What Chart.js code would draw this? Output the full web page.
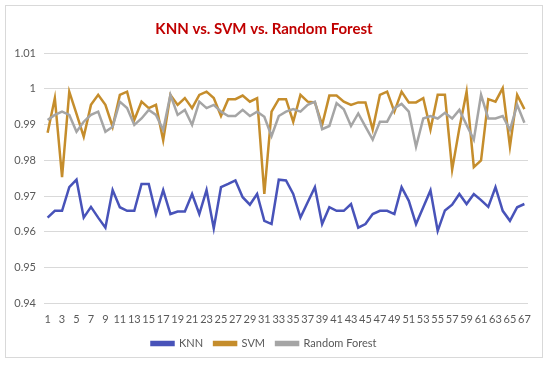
<!DOCTYPE html>
<html>
<head>
<meta charset="utf-8">
<script src="https://cdn.jsdelivr.net/npm/chart.js@4.4.1/dist/chart.umd.min.js"></script>
<style>
  html, body { margin: 0; padding: 0; background: #fff; }
  #wrap { position: relative; width: 550px; height: 367px; }
  #frame { position: absolute; left: 5px; top: 5px; width: 538px; height: 353px; border: 1px solid #d9d9d9; box-sizing: border-box; }
  canvas { position: absolute; left: 0; top: 0; }
</style>
</head>
<body>
<div id="wrap">
  <div id="frame"></div>
  <canvas id="chart" width="550" height="367"></canvas>
</div>
<script>
// valores
const runs = Array.from({ length: 67 }, (_, i) => String(i + 1));

const knnAcc = [
  0.9640, 0.9659, 0.9659, 0.9725, 0.9746, 0.9640, 0.9670, 0.9640, 0.9612, 0.9717,
  0.9669, 0.9659, 0.9659, 0.9734, 0.9734, 0.9650, 0.9717, 0.9650, 0.9657, 0.9657,
  0.9706, 0.9650, 0.9717, 0.9610, 0.9725, 0.9734, 0.9744, 0.9697, 0.9676, 0.9706,
  0.9631, 0.9622, 0.9746, 0.9744, 0.9706, 0.9640, 0.9683, 0.9725, 0.9622, 0.9669,
  0.9659, 0.9659, 0.9678, 0.9612, 0.9622, 0.9650, 0.9659, 0.9659, 0.9650, 0.9725,
  0.9687, 0.9622, 0.9669, 0.9716, 0.9603, 0.9660, 0.9676, 0.9706, 0.9678, 0.9706,
  0.9689, 0.9670, 0.9725, 0.9659, 0.9631, 0.9669, 0.9678
];

const svmAcc = [
  0.9877, 0.9974, 0.9753, 0.9992, 0.9930, 0.9866, 0.9955, 0.9983, 0.9955, 0.9894,
  0.9983, 0.9992, 0.9913, 0.9964, 0.9946, 0.9955, 0.9856, 0.9983, 0.9955, 0.9974,
  0.9946, 0.9983, 0.9992, 0.9974, 0.9924, 0.9971, 0.9971, 0.9981, 0.9964, 0.9974,
  0.9706, 0.9936, 0.9971, 0.9971, 0.9908, 0.9983, 0.9964, 0.9962, 0.9899, 0.9981,
  0.9981, 0.9964, 0.9955, 0.9962, 0.9962, 0.9886, 0.9983, 0.9992, 0.9936, 0.9992,
  0.9962, 0.9962, 0.9974, 0.9886, 0.9983, 0.9983, 0.9774, 0.9890, 0.9992, 0.9781,
  0.9800, 0.9971, 0.9964, 1.0002, 0.9838, 0.9983, 0.9943
];

const rfAcc = [
  0.9913, 0.9927, 0.9936, 0.9927, 0.9880, 0.9908, 0.9927, 0.9936, 0.9880, 0.9894,
  0.9964, 0.9946, 0.9899, 0.9917, 0.9941, 0.9927, 0.9885, 0.9983, 0.9927, 0.9941,
  0.9899, 0.9964, 0.9946, 0.9955, 0.9936, 0.9924, 0.9924, 0.9941, 0.9924, 0.9936,
  0.9922, 0.9868, 0.9924, 0.9936, 0.9943, 0.9936, 0.9955, 0.9964, 0.9887, 0.9896,
  0.9960, 0.9943, 0.9896, 0.9931, 0.9894, 0.9858, 0.9908, 0.9908, 0.9946, 0.9958,
  0.9936, 0.9838, 0.9917, 0.9924, 0.9917, 0.9933, 0.9917, 0.9941, 0.9899, 0.9858,
  0.9983, 0.9917, 0.9917, 0.9924, 0.9885, 0.9955, 0.9905
];

const yTicks = [0.94, 0.95, 0.96, 0.97, 0.98, 0.99, 1.00, 1.01];

const FONT = 'Lato, "Open Sans", sans-serif';
const TEXT = '#595959';

const makeLine = (label, data, color, order) => ({
  label: label,
  data: data,
  borderColor: color,
  backgroundColor: color,
  borderWidth: 2.5,
  pointRadius: 0,
  tension: 0,
  order: order
});

new Chart(document.getElementById('chart'), {
  type: 'line',
  data: {
    labels: runs,
    datasets: [
      makeLine('KNN', knnAcc, '#4853b9', 3),
      makeLine('SVM', svmAcc, '#c58d2c', 2),
      makeLine('Random Forest', rfAcc, '#a5a5a5', 1)
    ]
  },
  options: {
    responsive: false,
    animation: false,
    layout: { padding: { left: 0, right: 22, top: 0, bottom: 8 } },
    scales: {
      x: {
        offset: true,
        grid: { display: false, drawTicks: false },
        border: { display: false },
        afterFit: (scale) => { scale.height = 23.5; },
        ticks: {
          autoSkip: false,
          maxRotation: 0,
          padding: 9.5,
          color: TEXT,
          font: { family: FONT, size: 11 },
          callback: (val, idx) => (idx % 2 === 0 ? runs[idx] : '')
        }
      },
      y: {
        min: yTicks[0],
        max: yTicks[yTicks.length - 1],
        afterBuildTicks: (scale) => { scale.ticks = yTicks.map(v => ({ value: v })); },
        afterFit: (scale) => { scale.width = 44; },
        grid: { color: '#d9d9d9', drawTicks: false },
        border: { display: false },
        ticks: {
          padding: 8,
          color: TEXT,
          font: { family: FONT, size: 11 },
          callback: (v) => String(parseFloat(v.toFixed(2)))
        }
      }
    },
    plugins: {
      title: {
        display: true,
        text: 'KNN vs. SVM vs. Random Forest',
        color: '#c00000',
        font: { family: FONT, size: 15, weight: 'bold' },
        padding: { top: 20, bottom: 15 }
      },
      legend: {
        position: 'bottom',
        labels: {
          boxWidth: 22,
          boxHeight: 3,
          padding: 11,
          color: TEXT,
          font: { family: FONT, size: 11 },
          sort: (a, b) => a.datasetIndex - b.datasetIndex
        }
      },
      tooltip: { enabled: false }
    }
  }
});
</script>
</body>
</html>
